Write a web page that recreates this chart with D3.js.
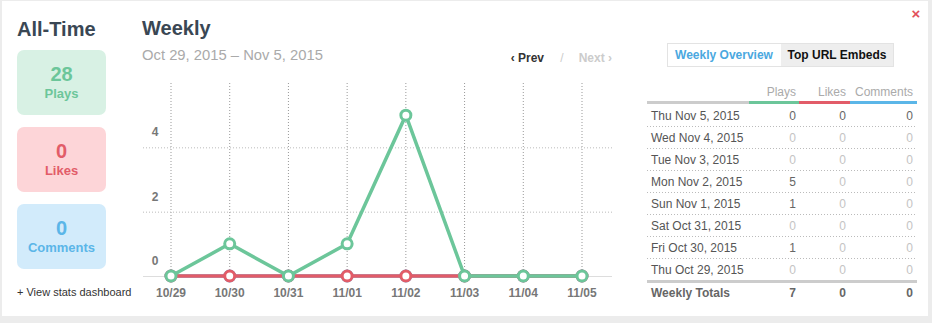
<!DOCTYPE html>
<html>
<head>
<meta charset="utf-8">
<script src="https://cdn.jsdelivr.net/npm/d3@7"></script>
<style>
  body { margin: 0; background: #fff; }
  svg { display: block; font-family: "Liberation Sans", Arial, sans-serif; }
</style>
</head>
<body>
<div id="chart"></div>
<script>
// data
const days = ['10/29', '10/30', '10/31', '11/01', '11/02', '11/03', '11/04', '11/05']
const dayNames = ['Thu Oct 29, 2015', 'Fri Oct 30, 2015', 'Sat Oct 31, 2015', 'Sun Nov 1, 2015',
  'Mon Nov 2, 2015', 'Tue Nov 3, 2015', 'Wed Nov 4, 2015', 'Thu Nov 5, 2015']
const plays = [0, 1, 0, 1, 5, 0, 0, 0]
const likes = [0, 0, 0, 0, 0, 0, 0, 0]
const comments = [0, 0, 0, 0, 0, 0, 0, 0]
const yTicks = [0, 2, 4]
const allTime = [
  { label: 'Plays', value: 28 },
  { label: 'Likes', value: 0 },
  { label: 'Comments', value: 0 }
]

width = 932
height = 323

const green = '#6cc69a', red = '#e25c68', blue = '#5bb6e8'
const boxColors = [
  { bg: '#d8f1e4', fg: '#6cc69a' },
  { bg: '#fdd5d8', fg: '#e25c68' },
  { bg: '#d2ebfb', fg: '#5bb6e8' }
]

const svg = d3.select('#chart')
  .append('svg')
  .attr('width', width)
  .attr('height', height)

// frame
svg.append('rect').attr('width', width).attr('height', height).attr('fill', '#ececec')
svg.append('rect').attr('x', 2).attr('y', 1).attr('width', 926).attr('height', 315).attr('fill', '#fff')

// close
svg.append('text').attr('x', 916).attr('y', 19).attr('text-anchor', 'middle')
  .attr('fill', '#e2505c').attr('font-size', 15).attr('font-weight', 'bold').text('×')

// Left panel
svg.append('text').attr('x', 17).attr('y', 36).attr('font-size', 20).attr('font-weight', 'bold')
  .attr('fill', '#3a4754').text('All-Time')

const boxes = svg.selectAll('.box').data(allTime).enter().append('g')
  .attr('class', 'box')
  .attr('transform', (d, i) => `translate(17, ${50 + i * 77})`)
boxes.append('rect').attr('width', 89).attr('height', 65).attr('rx', 7)
  .attr('fill', (d, i) => boxColors[i].bg)
boxes.append('text').attr('x', 44.5).attr('y', 31).attr('text-anchor', 'middle')
  .attr('font-size', 20).attr('font-weight', 'bold').attr('fill', (d, i) => boxColors[i].fg)
  .text(d => d.value)
boxes.append('text').attr('x', 44.5).attr('y', 48).attr('text-anchor', 'middle')
  .attr('font-size', 13).attr('font-weight', 'bold').attr('fill', (d, i) => boxColors[i].fg)
  .text(d => d.label)

svg.append('text').attr('x', 17).attr('y', 296).attr('font-size', 11).attr('fill', '#333')
  .text('+ View stats dashboard')

// Weekly header
svg.append('text').attr('x', 142).attr('y', 35).attr('font-size', 20).attr('font-weight', 'bold')
  .attr('fill', '#3a4754').text('Weekly')
svg.append('text').attr('x', 142).attr('y', 60).attr('font-size', 14.8).attr('fill', '#aaa')
  .text('Oct 29, 2015 \u2013 Nov 5, 2015')
svg.append('text').attr('x', 544).attr('y', 62).attr('text-anchor', 'end').attr('font-size', 12)
  .attr('font-weight', 'bold').attr('fill', '#333').text('\u2039 Prev')
svg.append('text').attr('x', 562).attr('y', 62).attr('text-anchor', 'middle').attr('font-size', 12)
  .attr('fill', '#ccc').text('/')
svg.append('text').attr('x', 612).attr('y', 62).attr('text-anchor', 'end').attr('font-size', 12)
  .attr('font-weight', 'bold').attr('fill', '#ccc').text('Next \u203a')

// Scales
const xScale = d3.scalePoint().domain(days).range([171, 582])
const yScale = d3.scaleLinear().domain([0, 6]).range([276, 83])
const gridLeft = 143, gridRight = 612

// grid
svg.append('g').selectAll('line').data(days).enter().append('line')
  .attr('x1', d => xScale(d)).attr('x2', d => xScale(d))
  .attr('y1', yScale(6)).attr('y2', yScale(0))
  .attr('stroke', '#999').attr('stroke-dasharray', '1,2')
svg.append('g').selectAll('line').data(yTicks.filter(t => t > 0)).enter().append('line')
  .attr('x1', gridLeft).attr('x2', gridRight)
  .attr('y1', d => yScale(d) + 0.5).attr('y2', d => yScale(d) + 0.5)
  .attr('stroke', '#bbb').attr('stroke-dasharray', '1,2')
svg.append('line').attr('x1', gridLeft).attr('x2', gridRight)
  .attr('y1', yScale(0) + 0.5).attr('y2', yScale(0) + 0.5).attr('stroke', '#ddd')

// y labels
svg.append('g').selectAll('text').data(yTicks).enter().append('text')
  .attr('x', 155).attr('y', d => yScale(d) - 11).attr('text-anchor', 'middle')
  .attr('font-size', 12).attr('font-weight', 'bold').attr('fill', '#777').text(d => d)

// x labels
svg.append('g').selectAll('text').data(days).enter().append('text')
  .attr('x', d => xScale(d)).attr('y', 297).attr('text-anchor', 'middle')
  .attr('font-size', 12).attr('font-weight', 'bold').attr('fill', '#777').text(d => d)

// series, plays on top
const line = d3.line().x((d, i) => xScale(days[i])).y(d => yScale(d))
const series = [
  { values: comments, color: blue },
  { values: likes, color: red },
  { values: plays, color: green }
]
series.forEach(s => {
  svg.append('path').datum(s.values).attr('d', line)
    .attr('fill', 'none').attr('stroke', s.color).attr('stroke-width', 3.5)
  svg.append('g').selectAll('circle').data(s.values).enter().append('circle')
    .attr('cx', (d, i) => xScale(days[i])).attr('cy', d => yScale(d))
    .attr('r', 5).attr('fill', '#fff').attr('stroke', s.color).attr('stroke-width', 3)
})

// Tabs
svg.append('rect').attr('x', 667.5).attr('y', 43.5).attr('width', 226).attr('height', 23)
  .attr('fill', '#fff').attr('stroke', '#e3e3e3')
svg.append('rect').attr('x', 781).attr('y', 44).attr('width', 112).attr('height', 22).attr('fill', '#eeeeee')
svg.append('text').attr('x', 724).attr('y', 59).attr('text-anchor', 'middle').attr('font-size', 12)
  .attr('font-weight', 'bold').attr('fill', '#4aa8e0').text('Weekly Overview')
svg.append('text').attr('x', 837).attr('y', 59).attr('text-anchor', 'middle').attr('font-size', 12)
  .attr('font-weight', 'bold').attr('fill', '#111').text('Top URL Embeds')

// Table
const colRight = [796, 846, 913]
const headers = ['Plays', 'Likes', 'Comments']
const headerColors = [green, red, blue]
const colSpans = [[749, 799], [799, 850], [850, 917]]
svg.append('g').selectAll('text').data(headers).enter().append('text')
  .attr('x', (d, i) => colRight[i]).attr('y', 96).attr('text-anchor', 'end')
  .attr('font-size', 12).attr('fill', '#aaa').text(d => d)
svg.append('rect').attr('x', 647).attr('y', 101).attr('width', 102).attr('height', 3).attr('fill', '#ccc')
svg.append('g').selectAll('rect').data(colSpans).enter().append('rect')
  .attr('x', d => d[0]).attr('y', 101).attr('width', d => d[1] - d[0]).attr('height', 3)
  .attr('fill', (d, i) => headerColors[i])

const rows = days.map((d, i) => ({ name: dayNames[i], vals: [plays[i], likes[i], comments[i]] })).reverse()
const rowY = d3.scaleBand().domain(d3.range(rows.length)).range([104, 280])
const rowG = svg.selectAll('.row').data(rows).enter().append('g')
  .attr('class', 'row').attr('transform', (d, i) => `translate(0, ${rowY(i)})`)
rowG.append('text').attr('x', 651).attr('y', 16).attr('font-size', 12).attr('fill', '#555')
  .text(d => d.name)
rowG.each(function (d, ri) {
  d3.select(this).selectAll('.v').data(d.vals).enter().append('text')
    .attr('x', (v, i) => colRight[i]).attr('y', 16).attr('text-anchor', 'end')
    .attr('font-size', 12).attr('fill', v => (ri === 0 || v > 0) ? '#666' : '#c4c4c4')
    .text(v => v)
})
rowG.filter((d, i) => i < rows.length - 1).append('line')
  .attr('x1', 647).attr('x2', 917).attr('y1', rowY.bandwidth() + 0.5).attr('y2', rowY.bandwidth() + 0.5)
  .attr('stroke', '#bbb').attr('stroke-dasharray', '1,2')
svg.append('rect').attr('x', 647).attr('y', 280).attr('width', 270).attr('height', 3).attr('fill', '#ccc')

const totals = [d3.sum(plays), d3.sum(likes), d3.sum(comments)]
svg.append('text').attr('x', 651).attr('y', 297).attr('font-size', 12).attr('font-weight', 'bold')
  .attr('fill', '#666').text('Weekly Totals')
svg.append('g').selectAll('text').data(totals).enter().append('text')
  .attr('x', (d, i) => colRight[i]).attr('y', 297).attr('text-anchor', 'end')
  .attr('font-size', 12).attr('font-weight', 'bold').attr('fill', '#666').text(d => d)
</script>
</body>
</html>
